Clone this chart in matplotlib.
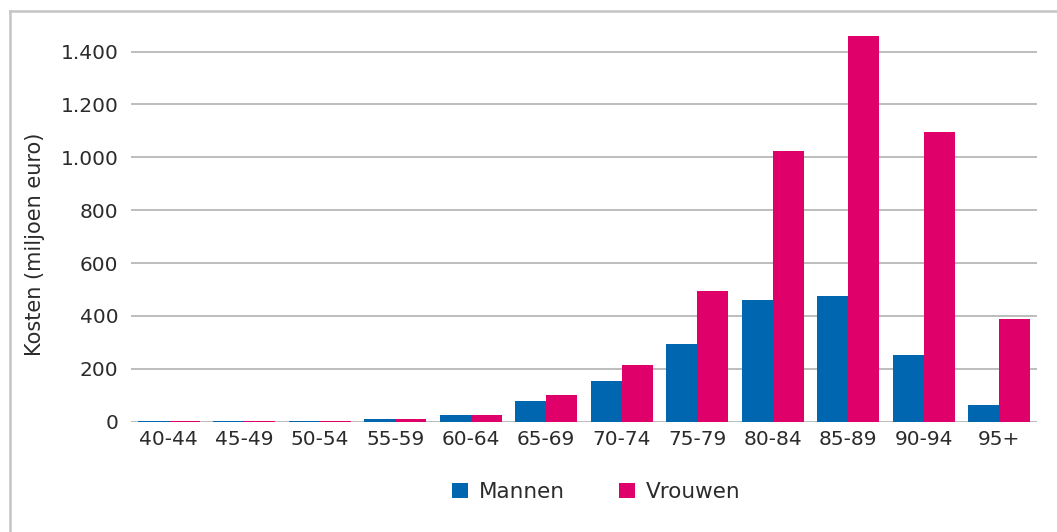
import matplotlib
matplotlib.use("Agg")
import matplotlib.pyplot as plt
from matplotlib.lines import Line2D
from matplotlib.ticker import FuncFormatter
import numpy as np

categories = ["40-44", "45-49", "50-54", "55-59", "60-64", "65-69",
              "70-74", "75-79", "80-84", "85-89", "90-94", "95+"]
mannen = [2, 2, 2, 9, 24, 78, 154, 293, 459, 474, 251, 62]
vrouwen = [2, 2, 2, 9, 24, 100, 215, 495, 1024, 1459, 1094, 390]
yticks = [0, 200, 400, 600, 800, 1000, 1200, 1400]

blue = "#0066B0"
pink = "#E0006A"
txt = "#2b2b2b"

plt.rcParams['font.family'] = ['DejaVu Sans']

fig = plt.figure(figsize=(10.57, 5.32), dpi=100)
ax = fig.add_axes([131/1057, 1 - 421.7/532, (1037-131)/1057, (421.7-36)/532])

x = np.arange(len(categories))
w = 0.41
ax.bar(x - w/2, mannen, width=w, color=blue, label="Mannen", zorder=3)
ax.bar(x + w/2, vrouwen, width=w, color=pink, label="Vrouwen", zorder=3)

ax.set_xlim(-0.5, len(categories) - 0.5)
ax.set_ylim(0, 1459)
ax.set_yticks(yticks)
ax.yaxis.set_major_formatter(FuncFormatter(lambda v, p: f"{int(v):,}".replace(",", ".")))
ax.set_xticks(x)
ax.set_xticklabels(categories)
ax.grid(axis="y", color="#bdbdbd", linewidth=1.4, zorder=0)
ax.set_axisbelow(True)
for s in ax.spines.values():
    s.set_visible(False)
ax.tick_params(axis="both", length=0, labelsize=14.5, colors=txt)
ax.tick_params(axis="y", pad=9)
ax.tick_params(axis="x", pad=6)
ax.set_ylabel("Kosten (miljoen euro)", fontsize=15, color=txt)
ax.yaxis.set_label_coords(-0.095, 0.461)

fig.legend(loc="center", bbox_to_anchor=(596/1057, 1 - 492/532), ncol=2,
           frameon=False, fontsize=15.5, handlelength=0.75, handleheight=0.75,
           handletextpad=0.5, columnspacing=2.5, labelcolor=txt)

fx = 9.5/1057
fy = 1 - 11/532
fig.add_artist(Line2D([fx, fx], [-0.01, fy], transform=fig.transFigure,
                      color="#c4c4c4", linewidth=1.8))
fig.add_artist(Line2D([fx, 1.01], [fy, fy], transform=fig.transFigure,
                      color="#c4c4c4", linewidth=1.8))

fig.savefig("out.png", dpi=100)
